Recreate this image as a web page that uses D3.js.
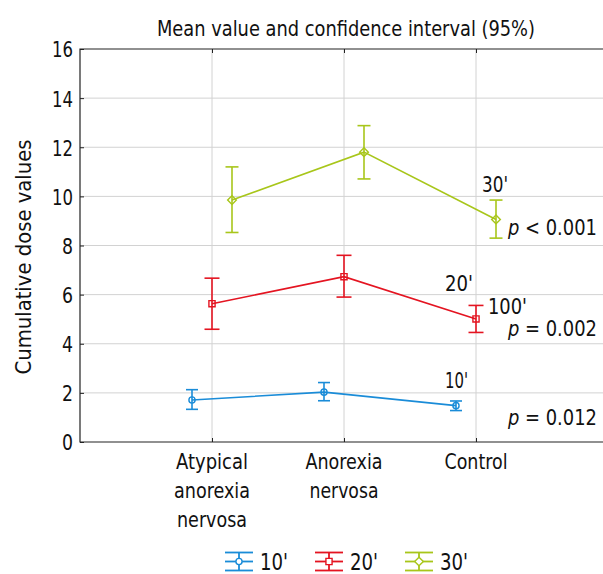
<!DOCTYPE html>
<html><head><meta charset="utf-8">
<script src="https://cdn.jsdelivr.net/npm/d3@7/dist/d3.min.js"></script>
<style>
body{margin:0;background:#fff;}
svg text{font-family:"DejaVu Sans Condensed","DejaVu Sans",sans-serif;font-stretch:condensed;fill:#111;}
</style></head><body>
<svg id="c" width="603" height="574"></svg>
<script>
const categories = ["Atypical anorexia nervosa", "Anorexia nervosa", "Control"];
const categoryLines = [["Atypical","anorexia","nervosa"],["Anorexia","nervosa"],["Control"]];
const seriesNames = ["10'", "20'", "30'"];
const mean10 = [1.71, 2.03, 1.48];
const low10  = [1.33, 1.68, 1.28];
const high10 = [2.13, 2.42, 1.67];
const mean20 = [5.63, 6.73, 5.01];
const low20  = [4.59, 5.90, 4.46];
const high20 = [6.67, 7.60, 5.56];
const mean30 = [9.85, 11.80, 9.06];
const low30  = [8.53, 10.71, 8.30];
const high30 = [11.20, 12.88, 9.85];
const yTicks = [0, 2, 4, 6, 8, 10, 12, 14, 16];
const pLabels = ["p = 0.012", "p = 0.002", "p < 0.001"];

const colors = ["#1a8cd8", "#e41421", "#a8c61a"];
const offsets = [-20, 0, 20];
const series = [
  {name: seriesNames[0], mean: mean10, low: low10, high: high10, color: colors[0], sym: "circle", off: offsets[0], cap: 12},
  {name: seriesNames[1], mean: mean20, low: low20, high: high20, color: colors[1], sym: "square", off: offsets[1], cap: 15},
  {name: seriesNames[2], mean: mean30, low: low30, high: high30, color: colors[2], sym: "diamond", off: offsets[2], cap: 13}
];
function marker(sel, kind, cx, cy, color, fill) {
  const p = sel.append("path").attr("fill", fill).attr("stroke", color).attr("stroke-width", 1.4);
  if (kind === "circle") p.attr("d", d3.symbol(d3.symbolCircle, 30)()).attr("transform", `translate(${cx},${cy})`);
  else if (kind === "square") p.attr("d", d3.symbol(d3.symbolSquare, 38)()).attr("transform", `translate(${cx},${cy})`);
  else p.attr("d", d3.symbol(d3.symbolSquare, 38)()).attr("transform", `translate(${cx},${cy}) rotate(45)`);
}

const svg = d3.select("#c");
const pL = 80, pR = 608, pT = 49, pB = 442;
const x = d3.scaleLinear().domain([0, 4]).range([pL, pR]);
const y = d3.scaleLinear().domain([0, 16]).range([pB, pT]);
const catX = i => x(i + 1);

function txt(xp, yp, s, size, len, anchor) {
  const t = svg.append("text").attr("x", xp).attr("y", yp).attr("font-size", size).text(s);
  if (anchor) t.attr("text-anchor", anchor);
  if (len) t.attr("textLength", len).attr("lengthAdjust", "spacingAndGlyphs");
  return t;
}

// grid
svg.append("g").selectAll("line").data(yTicks.filter(t => t > 0 && t < 16)).join("line")
  .attr("x1", pL).attr("x2", pR).attr("y1", d => y(d)).attr("y2", d => y(d))
  .attr("stroke", "#d2d2d2").attr("stroke-width", 1);
svg.append("g").selectAll("line").data(categories).join("line")
  .attr("x1", (d, i) => catX(i)).attr("x2", (d, i) => catX(i)).attr("y1", pT).attr("y2", pB)
  .attr("stroke", "#d2d2d2").attr("stroke-width", 1);

// axes
const yAxis = d3.axisLeft(y).tickValues(yTicks).tickSize(-4).tickPadding(7).tickFormat(d3.format("d"));
const gy = svg.append("g").attr("transform", `translate(${pL},0)`).call(yAxis);
gy.attr("font-family", null).attr("font-size", null);
gy.select(".domain").remove();
gy.selectAll(".tick line").attr("stroke", "#222");
gy.selectAll("text").attr("font-size", 22).attr("dy", "0.36em")
  .attr("textLength", d => d >= 10 ? 21 : 11).attr("lengthAdjust", "spacingAndGlyphs");
const xAxisB = d3.axisBottom(x).tickValues([1, 2, 3]).tickSize(-4).tickFormat("");
const gxb = svg.append("g").attr("transform", `translate(0,${pB})`).call(xAxisB);
gxb.select(".domain").remove();
gxb.selectAll(".tick line").attr("stroke", "#222");
const xAxisT = d3.axisTop(x).tickValues([1, 2, 3]).tickSize(-4).tickFormat("");
const gxt = svg.append("g").attr("transform", `translate(0,${pT})`).call(xAxisT);
gxt.select(".domain").remove();
gxt.selectAll(".tick line").attr("stroke", "#222");
svg.append("path").attr("d", `M${pR},${pT}H${pL}V${pB}H${pR}`)
  .attr("fill", "none").attr("stroke", "#222").attr("stroke-width", 1.2);

// category labels
const catLens = [[72, 76, 70], [77, 69], [63]];
categoryLines.forEach((lines, i) => {
  lines.forEach((l, j) => txt(catX(i), 469 + j * 29, l, 22, catLens[i][j], "middle"));
});

// series
const line = d3.line();
series.forEach(s => {
  const g = svg.append("g");
  const px = i => catX(i) + s.off;
  g.append("path").attr("d", line(s.mean.map((m, i) => [px(i), y(m)])))
    .attr("fill", "none").attr("stroke", s.color).attr("stroke-width", 1.6);
  s.mean.forEach((m, i) => {
    const cx = px(i);
    g.append("line").attr("x1", cx).attr("x2", cx).attr("y1", y(s.low[i])).attr("y2", y(s.high[i]))
      .attr("stroke", s.color).attr("stroke-width", 1.6);
    [s.low[i], s.high[i]].forEach(v => g.append("line")
      .attr("x1", cx - s.cap / 2).attr("x2", cx + s.cap / 2).attr("y1", y(v)).attr("y2", y(v))
      .attr("stroke", s.color).attr("stroke-width", 1.6));
    marker(g, s.sym, cx, y(m), s.color, "none");
  });
});

// annotations
txt(482, 192, "30'", 22, 26);
txt(445, 291, "20'", 22, 28);
txt(488, 314, "100'", 21, 39);
txt(445, 388, "10'", 22, 23);
const pPos = [{y: 425, i: 0}, {y: 336, i: 1}, {y: 235, i: 2}];
pPos.forEach(p => {
  const parts = pLabels[p.i].split(" ");
  const t = svg.append("text").attr("x", 597).attr("y", p.y).attr("font-size", 21)
    .attr("text-anchor", "end")
    .attr("textLength", 89).attr("lengthAdjust", "spacingAndGlyphs");
  t.append("tspan").attr("font-style", "italic").text(parts[0]);
  t.append("tspan").text(" " + parts[1] + " " + parts[2]);
});

// title & y label
txt(346, 36, "Mean value and confidence interval (95%)", 21, 378, "middle");
svg.append("text").attr("transform", "translate(31,257) rotate(-90)").attr("text-anchor", "middle")
  .attr("font-size", 22).attr("textLength", 235).attr("lengthAdjust", "spacingAndGlyphs")
  .text("Cumulative dose values");

// legend
const legX = [225, 315, 405];
series.forEach((s, i) => {
  const g = svg.append("g").attr("transform", `translate(${legX[i]},561.5)`);
  const w = 28, c = w / 2;
  [-9, 0, 9].forEach(dy => g.append("line").attr("x1", 0).attr("x2", w).attr("y1", dy).attr("y2", dy)
    .attr("stroke", s.color).attr("stroke-width", 1.8));
  g.append("line").attr("x1", c).attr("x2", c).attr("y1", -9).attr("y2", 9).attr("stroke", s.color).attr("stroke-width", 1.8);
  marker(g, s.sym, c, 0, s.color, "#fff");
  g.append("text").attr("x", 35).attr("y", 8.5).attr("font-size", 23)
    .attr("textLength", 28).attr("lengthAdjust", "spacingAndGlyphs").text(s.name);
});
</script></body></html>
